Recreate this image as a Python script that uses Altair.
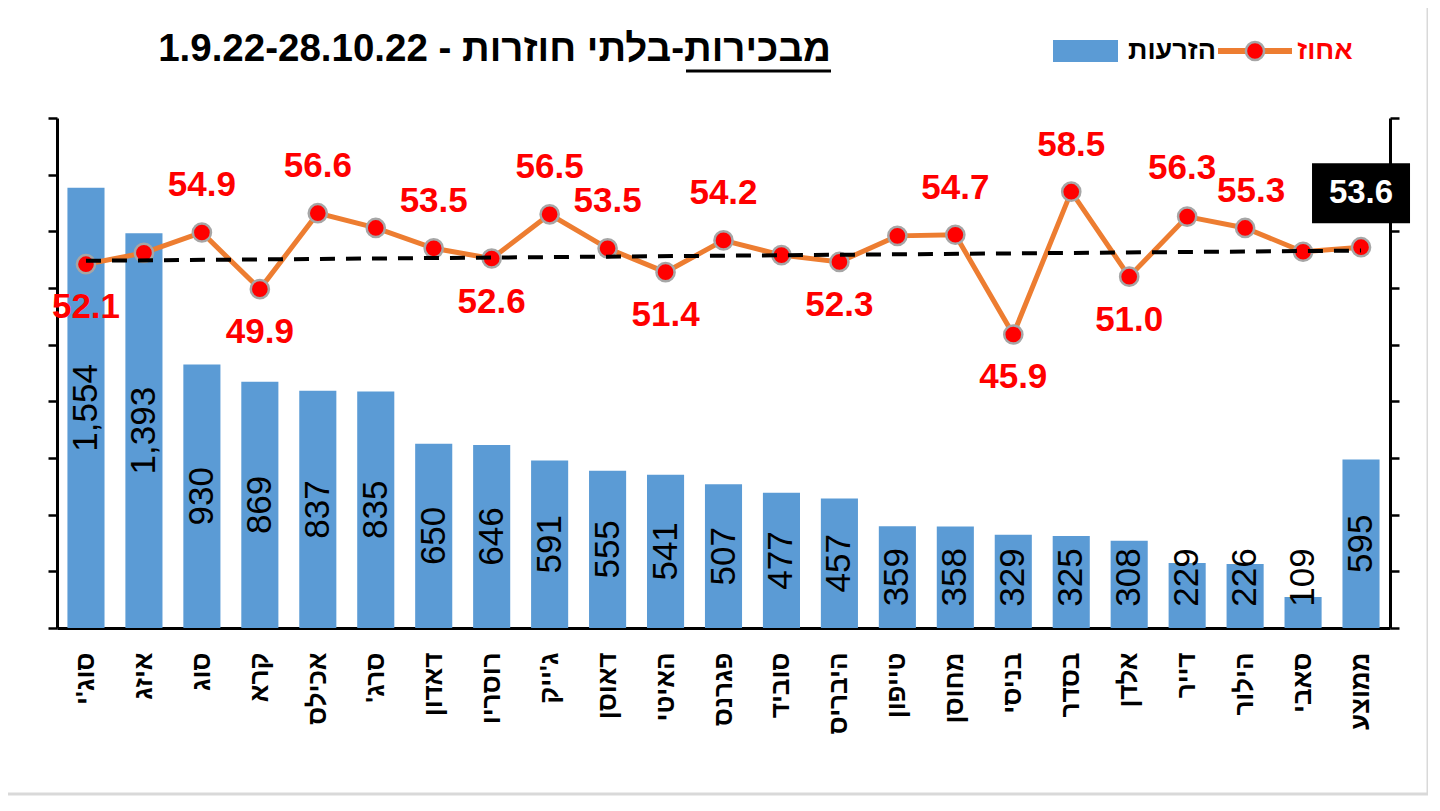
import altair as alt
import pandas as pd

RLM = "\u200f"
categories = ["סוג'י", "איזג", "סוג", "קרא", "אכילס", "סרג'" + RLM, "דאדון", "רוסריו",
              "ג'ייק", "דאוסן", "האיטי", "פגרנס", "סוביד", "היבריס", "טייפון", "מחוסן",
              "בניסי", "בסדר", "אלדן", "דייר", "הילור", "סאבי", "ממוצע"]
births = [1554, 1393, 930, 869, 837, 835, 650, 646, 591, 555, 541, 507, 477, 457,
          359, 358, 329, 325, 308, 229, 226, 109, 595]
pct = [52.1, 53.1, 54.9, 49.9, 56.6, 55.3, 53.5, 52.6, 56.5, 53.5, 51.4, 54.2, 52.9,
       52.3, 54.6, 54.7, 45.9, 58.5, 51.0, 56.3, 55.3, 53.2, 53.6]
pct_label_pos = ["below", "", "above", "below", "above", "", "above", "below", "above",
                 "above", "below", "above", "", "below", "", "above", "below", "above",
                 "below", "above_left", "above_right", "", "box"]
trend_values = [52.4, 53.3]

title_text = "1.9.22-28.10.22 - מבכירות-בלתי חוזרות"
legend_bar = "הזרעות"
legend_line = "אחוז"

FONT = "Liberation Sans"
W, H = 1333, 510
BLUE = "#5B9BD5"
ORANGE = "#ED7D31"
RED = "#FF0000"

df = pd.DataFrame({"cat": categories, "n": births, "pct": pct, "pos": pct_label_pos})
df["n_label"] = [f"{v:,}" for v in births]
df["pct_label"] = [f"{v:.1f}" for v in pct]

trend_df = pd.DataFrame({"cat": [categories[0], categories[-1]], "pct": trend_values})

x_scale = alt.Scale(paddingInner=0.36, paddingOuter=0.18)
x_axis = alt.Axis(title=None, labelAngle=-90, labelFont=FONT, labelFontSize=26,
                  labelFontWeight="bold", labelColor="black", labelPadding=24,
                  ticks=False, domainColor="black", domainWidth=3, grid=False)
X = alt.X("cat:N", sort=categories, scale=x_scale, axis=x_axis)

left_scale = alt.Scale(domain=[0, 1800], nice=False)
left_axis = alt.Axis(values=list(range(0, 1801, 200)), labels=False, ticks=True,
                     tickSize=9, tickWidth=2.5, tickColor="black",
                     domainColor="black", domainWidth=3, grid=False, title=None)
pct_scale = alt.Scale(domain=[20, 65], nice=False)
right_axis = alt.Axis(orient="right", values=list(range(20, 66, 5)), labels=False,
                      ticks=True, tickSize=9, tickWidth=2.5, tickColor="black",
                      domainColor="black", domainWidth=3, grid=False, title=None)
y_left = alt.Y("n:Q", scale=left_scale, axis=left_axis)
y_right = alt.Y("pct:Q", scale=pct_scale, axis=right_axis)

base = alt.Chart(df)

bars = base.mark_bar(color=BLUE).encode(x=X, y=y_left)
bar_labels = base.transform_calculate(
    lab_y="max(datum.n / 2, 178)"
).mark_text(angle=270, font=FONT, fontSize=35, color="black", align="center",
            baseline="middle").encode(
    x=X, y=alt.Y("lab_y:Q", scale=left_scale, axis=left_axis),
    text="n_label:N")
bar_layer = alt.layer(bars, bar_labels)

line = base.mark_line(color=ORANGE, strokeWidth=5).encode(x=X, y=y_right)
points = base.mark_point(shape="circle", filled=True, fill=RED, stroke="#A6A6A6",
                         strokeWidth=2.5, size=330, opacity=1).encode(x=X, y=y_right)
trend = alt.Chart(trend_df).mark_line(color="black", strokeWidth=4,
                                      strokeDash=[15, 11]).encode(x=X, y=y_right)


def pct_labels(pos, dx, dy):
    return base.transform_filter(f"datum.pos == '{pos}'").mark_text(
        font=FONT, fontSize=35, fontWeight="bold", color=RED, dx=dx, dy=dy,
        baseline="middle"
    ).encode(x=X, y=y_right, text="pct_label:N")


lab_above = pct_labels("above", 0, -47)
lab_below = pct_labels("below", 0, 43)
lab_above_l = pct_labels("above_left", -5, -49)
lab_above_r = pct_labels("above_right", 6, -37)
box = base.transform_filter("datum.pos == 'box'").mark_point(
    shape="M-1,-0.612L1,-0.612L1,0.612L-1,0.612Z", filled=True, fill="black",
    stroke=None, size=9604, opacity=1, xOffset=0, yOffset=-54
).encode(x=X, y=y_right)
box_text = base.transform_filter("datum.pos == 'box'").mark_text(
    font=FONT, fontSize=33, fontWeight="bold", color="white", dx=0, dy=-54,
    baseline="middle"
).encode(x=X, y=y_right, text="pct_label:N")
pct_layer = alt.layer(line, points, trend, lab_above, lab_below, lab_above_l,
                      lab_above_r, box, box_text)

one = pd.DataFrame({"k": [0]})
frame = alt.Chart(one).mark_rect(fill=None, stroke="#D9D9D9", strokeWidth=3).encode(
    x=alt.value(-54), x2=alt.value(1371), y=alt.value(-113), y2=alt.value(676))
title_mark = alt.Chart(one).mark_text(
    font=FONT, fontSize=38.5, fontWeight="bold", color="black", align="right",
    baseline="middle").encode(x=alt.value(774), y=alt.value(-69), text=alt.value(title_text))
underline = alt.Chart(one).mark_rule(color="black", strokeWidth=3).encode(
    x=alt.value(629), x2=alt.value(774), y=alt.value(-47))
leg_rect = alt.Chart(one).mark_rect(color=BLUE).encode(
    x=alt.value(996), x2=alt.value(1061), y=alt.value(-78), y2=alt.value(-56))
leg_bar_text = alt.Chart(one).mark_text(
    font=FONT, fontSize=27, fontWeight="bold", color="black", align="center",
    baseline="middle").encode(x=alt.value(1115), y=alt.value(-67), text=alt.value(legend_bar))
leg_line = alt.Chart(one).mark_rule(color=ORANGE, strokeWidth=6).encode(
    x=alt.value(1161), x2=alt.value(1235), y=alt.value(-67))
leg_point = alt.Chart(one).mark_point(shape="circle", filled=True, fill=RED,
                                      stroke="#A6A6A6", strokeWidth=2.5, size=330,
                                      opacity=1).encode(x=alt.value(1198), y=alt.value(-67))
leg_line_text = alt.Chart(one).mark_text(
    font=FONT, fontSize=27, fontWeight="bold", color=RED, align="center",
    baseline="middle").encode(x=alt.value(1268), y=alt.value(-67), text=alt.value(legend_line))
deco = alt.layer(frame, title_mark, underline, leg_rect, leg_bar_text, leg_line,
                 leg_point, leg_line_text)

chart = alt.layer(bar_layer, pct_layer, deco).resolve_scale(y="independent").properties(
    width=W, height=H, background="white",
    padding={"left": 49, "top": 110, "right": 38, "bottom": 170},
    autosize=alt.AutoSizeParams(type="none")
).configure_view(stroke=None)

chart.save("out.html", embed_options={"renderer": "svg", "actions": False})
